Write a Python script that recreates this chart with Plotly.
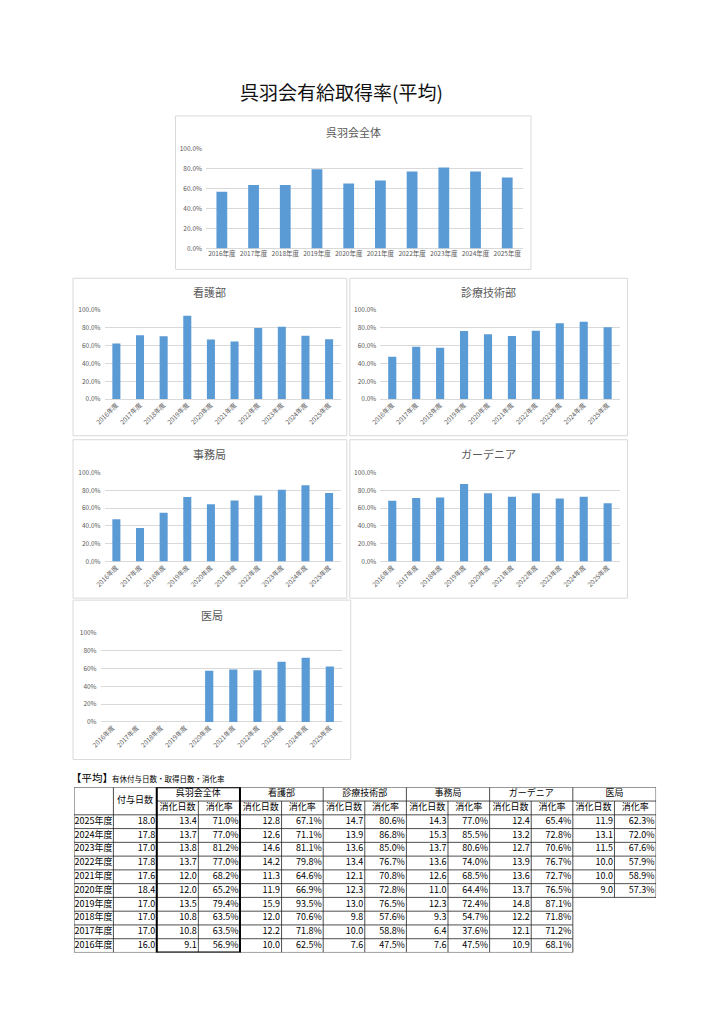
import plotly.graph_objects as go

# ---------------- data ----------------
years = ["2016年度", "2017年度", "2018年度", "2019年度", "2020年度",
         "2021年度", "2022年度", "2023年度", "2024年度", "2025年度"]

grant_days = [16.0, 17.0, 17.0, 17.0, 18.4, 17.6, 17.8, 17.0, 17.8, 18.0]

days_all = [9.1, 10.8, 10.8, 13.5, 12.0, 12.0, 13.7, 13.8, 13.7, 13.4]
rate_all = [56.9, 63.5, 63.5, 79.4, 65.2, 68.2, 77.0, 81.2, 77.0, 71.0]

days_kango = [10.0, 12.2, 12.0, 15.9, 11.9, 11.3, 14.2, 14.6, 12.6, 12.8]
rate_kango = [62.5, 71.8, 70.6, 93.5, 66.9, 64.6, 79.8, 81.1, 71.1, 67.1]

days_shinryo = [7.6, 10.0, 9.8, 13.0, 12.3, 12.1, 13.4, 13.6, 13.9, 14.7]
rate_shinryo = [47.5, 58.8, 57.6, 76.5, 72.8, 70.8, 76.7, 85.0, 86.8, 80.6]

days_jimu = [7.6, 6.4, 9.3, 12.3, 11.0, 12.6, 13.6, 13.7, 15.3, 14.3]
rate_jimu = [47.5, 37.6, 54.7, 72.4, 64.4, 68.5, 74.0, 80.6, 85.5, 77.0]

days_garden = [10.9, 12.1, 12.2, 14.8, 13.7, 13.6, 13.9, 12.7, 13.2, 12.4]
rate_garden = [68.1, 71.2, 71.8, 87.1, 76.5, 72.7, 76.7, 70.6, 72.8, 65.4]

days_ikyoku = [None, None, None, None, 9.0, 10.0, 10.0, 11.5, 13.1, 11.9]
rate_ikyoku = [None, None, None, None, 57.3, 58.9, 57.9, 67.6, 72.0, 62.3]

groups = ["呉羽会全体", "看護部", "診療技術部", "事務局", "ガーデニア", "医局"]
sub_headers = ["消化日数", "消化率"]
grant_header = "付与日数"
main_title = "呉羽会有給取得率(平均)"
caption_big = "【平均】"
caption_small = "有休付与日数・取得日数・消化率"

group_days = [days_all, days_kango, days_shinryo, days_jimu, days_garden, days_ikyoku]
group_rates = [rate_all, rate_kango, rate_shinryo, rate_jimu, rate_garden, rate_ikyoku]

# ---------------- layout helpers ----------------
W, H = 724, 1024
FONT = "Noto Sans CJK JP"
GRAY = "#595959"
GRID = "#d9d9d9"
BAR = "#5B9BD5"


def px(x):
    return x / W


def py(y):
    return 1 - y / H


# chart specs: (box x0,y0,x1,y1), (plot x0,y0,x1,y1), tickangle, tickformat, title offset
charts = [
    ((167, 111, 528, 266), (198, 144, 520, 245), 0, ".1%", 16),
    ((63, 275, 341, 434), (95, 307, 335, 397), -45, ".1%", 14),
    ((344, 275, 626, 434), (375, 307, 618, 397), -45, ".1%", 14),
    ((63, 438, 341, 598), (95, 471, 335, 561), -45, ".1%", 14),
    ((344, 438, 626, 598), (375, 471, 618, 561), -45, ".1%", 14),
    ((63, 600, 345, 761), (91, 633, 336, 723), -45, ".0%", 15),
]

fig = go.Figure()
shapes = []
annotations = []
layout_axes = {}

for i, (name, rates, spec) in enumerate(zip(groups, group_rates, charts), start=1):
    box, plot, angle, fmt, toff = spec
    yvals = [None if v is None else v / 100 for v in rates]
    fig.add_trace(go.Bar(
        x=years, y=yvals, marker_color=BAR, marker_line_width=0,
        xaxis=f"x{i}", yaxis=f"y{i}", showlegend=False,
        hovertemplate="%{x}: %{y:.1%}<extra></extra>",
    ))
    sfx = "" if i == 1 else str(i)
    layout_axes[f"xaxis{sfx}"] = dict(
        domain=[px(plot[0]), px(plot[2])], anchor=f"y{sfx}" if sfx else "y",
        type="category", tickangle=angle, showgrid=False, showline=False,
        zeroline=False, ticks="", tickfont=dict(size=6.5, color=GRAY, family=FONT),
        fixedrange=True,
    )
    layout_axes[f"yaxis{sfx}"] = dict(
        domain=[py(plot[3]), py(plot[1])], anchor=f"x{sfx}" if sfx else "x",
        range=[0, 1], dtick=0.2, tick0=0, tickformat=fmt,
        showgrid=True, gridcolor=GRID, gridwidth=1,
        zeroline=True, zerolinecolor=GRID, zerolinewidth=1,
        showline=False, ticks="", tickfont=dict(size=6.5, color=GRAY, family=FONT),
        ticklabelstandoff=3, fixedrange=True,
    )
    shapes.append(dict(type="rect", xref="paper", yref="paper",
                       x0=px(box[0]), x1=px(box[2]), y0=py(box[3]), y1=py(box[1]),
                       line=dict(color=GRID, width=1), fillcolor="rgba(0,0,0,0)",
                       layer="below"))
    annotations.append(dict(text=name, xref="paper", yref="paper",
                            x=px((box[0] + box[2]) / 2), y=py(box[1] + toff),
                            xanchor="center", yanchor="middle", showarrow=False,
                            font=dict(size=11, color=GRAY, family=FONT)))

# main title
annotations.append(dict(text=main_title, xref="paper", yref="paper",
                        x=px(336), y=py(86), xanchor="center", yanchor="middle",
                        showarrow=False, font=dict(size=19, color="#111", family=FONT)))
# caption
annotations.append(dict(text=caption_big, xref="paper", yref="paper",
                        x=px(59), y=py(779), xanchor="left", yanchor="middle",
                        showarrow=False, font=dict(size=10.5, color="#000", family=FONT)))
annotations.append(dict(text=caption_small, xref="paper", yref="paper",
                        x=px(101), y=py(780), xanchor="left", yanchor="middle",
                        showarrow=False, font=dict(size=7.5, color="#000", family=FONT)))

# ---------------- table ----------------
TX = 7
col_widths = [40, 44] + [42.25] * 12
edges = [0]
for w in col_widths:
    edges.append(edges[-1] + w)
n_cols = len(col_widths)
t_years = years[::-1]
n_rows = 2 + len(t_years)
TOP, ROWH = 789, 13.9
BOTTOM = TOP + ROWH * n_rows

layout_axes[f"xaxis{TX}"] = dict(domain=[px(64), px(64 + edges[-1])], range=[0, edges[-1]],
                                 visible=False, anchor=f"y{TX}", fixedrange=True)
layout_axes[f"yaxis{TX}"] = dict(domain=[py(BOTTOM), py(TOP)], range=[n_rows, 0],
                                 visible=False, anchor=f"x{TX}", fixedrange=True)


def present(r, c):
    if r < 0 or r >= n_rows or c < 0 or c >= n_cols:
        return False
    if r < 2 or c < 2:
        return True
    g = (c - 2) // 2
    yi = len(years) - 1 - (r - 2)
    return group_days[g][yi] is not None


LINE = dict(color="#222", width=0.8)
segs = []
# horizontal boundaries
for k in range(n_rows + 1):
    start = None
    for c in range(n_cols + 1):
        on = c < n_cols and (present(k - 1, c) or present(k, c)) and not (k == 1 and c < 2)
        if on and start is None:
            start = c
        if not on and start is not None:
            segs.append((edges[start], k, edges[c], k))
            start = None
# vertical boundaries
for j in range(n_cols + 1):
    start = None
    for r in range(n_rows + 1):
        on = r < n_rows and (present(r, j - 1) or present(r, j))
        if on and r == 0 and j >= 3 and (j - 2) % 2 == 1:
            on = False
        if on and start is None:
            start = r
        if not on and start is not None:
            segs.append((edges[j], start, edges[j], r))
            start = None
for (x0, y0, x1, y1) in segs:
    shapes.append(dict(type="line", xref=f"x{TX}", yref=f"y{TX}",
                       x0=x0, y0=y0, x1=x1, y1=y1, line=LINE))
# thick frame around 呉羽会全体
shapes.append(dict(type="rect", xref=f"x{TX}", yref=f"y{TX}",
                   x0=edges[2], x1=edges[4], y0=0, y1=n_rows,
                   line=dict(color="#000", width=2), fillcolor="rgba(0,0,0,0)"))

cx, cy, ct = [], [], []
lx, ly, lt = [], [], []
rx, ry, rt = [], [], []
# headers
cx.append((edges[1] + edges[2]) / 2); cy.append(1.0); ct.append(grant_header)
for g, name in enumerate(groups):
    c0 = 2 + 2 * g
    cx.append((edges[c0] + edges[c0 + 2]) / 2); cy.append(0.5); ct.append(name)
    for s, sh in enumerate(sub_headers):
        cx.append((edges[c0 + s] + edges[c0 + s + 1]) / 2); cy.append(1.5); ct.append(sh)
# body
for ri, yr in enumerate(t_years):
    r = 2 + ri
    yi = len(years) - 1 - ri
    lx.append(edges[0] + 0.5); ly.append(r + 0.5); lt.append(yr)
    rx.append(edges[2] - 1.5); ry.append(r + 0.5); rt.append(f"{grant_days[yi]:.1f}")
    for g in range(len(groups)):
        d = group_days[g][yi]
        rv = group_rates[g][yi]
        if d is None:
            continue
        c0 = 2 + 2 * g
        rx.append(edges[c0 + 1] - 1.5); ry.append(r + 0.5); rt.append(f"{d:.1f}")
        rx.append(edges[c0 + 2] - 1.5); ry.append(r + 0.5); rt.append(f"{rv:.1f}%")

tfont = dict(size=9, color="#000", family=FONT)
for xs, ys, ts, pos in [(cx, cy, ct, "middle center"), (lx, ly, lt, "middle right"),
                        (rx, ry, rt, "middle left")]:
    fig.add_trace(go.Scatter(x=xs, y=ys, text=ts, mode="text", textposition=pos,
                             textfont=tfont, xaxis=f"x{TX}", yaxis=f"y{TX}",
                             showlegend=False, hoverinfo="skip", cliponaxis=False))

fig.update_layout(
    width=W, height=H, autosize=False,
    margin=dict(l=0, r=0, t=0, b=0),
    paper_bgcolor="white", plot_bgcolor="white",
    bargap=0.66, showlegend=False,
    font=dict(family=FONT, color=GRAY),
    shapes=shapes, annotations=annotations,
    **layout_axes,
)

fig.write_html("out.html", config={"displayModeBar": False},
               post_script="document.body.style.margin='0';document.body.style.overflow='hidden';")
